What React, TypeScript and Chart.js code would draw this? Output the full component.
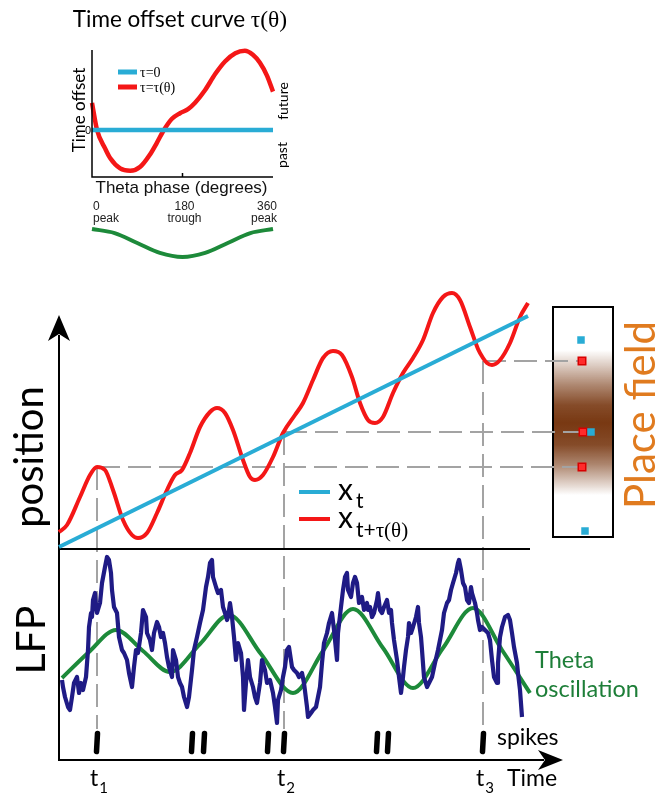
import React, { useEffect, useRef } from "react";
import { Chart, registerables } from "chart.js";
Chart.register(...registerables);

const W = 669;
const H = 794;
const SANS = '"Lato", "Open Sans", sans-serif';
const ARIAL = '"Liberation Sans", "DejaVu Sans", sans-serif';
const SERIF = '"Liberation Serif", "DejaVu Serif", serif';

const BLUE = "#29acd5";
const RED = "#f41717";
const NAVY = "#1f1b85";
const GREEN = "#1d8a3a";
const GREY = "#a3a3a3";
const BROWN = "120,56,18";
const ORANGE = "#e07b1f";

// ---------------- inset: time offset curve tau(theta) ----------------
const insetPhase = [0, 10, 26, 36, 56, 76, 96, 115, 129, 143, 159, 175, 191, 205, 225, 245, 265, 285, 304, 320, 334, 348, 360];
const insetTau = [0.34, 0, -0.23, -0.35, -0.48, -0.51, -0.46, -0.31, -0.16, 0, 0.14, 0.21, 0.26, 0.34, 0.5, 0.7, 0.86, 0.96, 0.99, 0.94, 0.84, 0.68, 0.48];
const zeroPhase = [0, 360];
const zeroTau = [0, 0];
const refPhase = [0, 45, 90, 135, 180, 225, 270, 315, 360];
const refCos = [1, 0.71, 0, -0.71, -1, -0.71, 0, 0.71, 1];
const phaseTickValues = [0, 180, 360];
const phaseTickNames = ["peak", "trough", "peak"];
const insetLegend = ["τ=0", "τ=τ(θ)"];

// ---------------- main: position, LFP, spikes ----------------
const blueTime = [0, 469];
const bluePos = [0, 46.2];
const redTime = [0, 8, 21, 31, 38, 46, 54, 64, 73, 79, 88, 98, 108, 116, 123, 131, 141, 151, 158, 166, 174, 184, 191, 196, 204, 214, 224, 236, 244, 254, 264, 274, 283, 293, 301, 309, 316, 324, 334, 344, 354, 364, 374, 384, 393, 401, 411, 419, 424, 428, 433, 441, 451, 461, 469];
const redPos = [3.0, 4.4, 10.0, 14.4, 16.0, 15.4, 11.4, 5.4, 2.4, 1.8, 2.8, 6.8, 11.4, 14.4, 15.4, 18.8, 24.0, 27.0, 27.8, 26.8, 23.4, 17.4, 14.0, 13.4, 14.4, 18.0, 22.8, 26.4, 28.8, 33.4, 37.8, 39.2, 38.4, 34.0, 28.8, 25.4, 24.8, 26.0, 30.8, 34.8, 37.8, 41.4, 46.8, 50.0, 50.8, 49.4, 44.0, 39.6, 37.8, 36.8, 36.4, 37.4, 40.8, 46.0, 48.8];

const lfpTime = [3, 4, 6, 9, 11, 13, 15, 18, 20, 22, 24, 27, 29, 30, 32, 33, 34, 36, 37, 38, 41, 43, 46, 48, 50, 52, 53, 55, 58, 60, 63, 65, 68, 70, 73, 75, 77, 79, 82, 84, 87, 88, 91, 93, 95, 98, 100, 102, 104, 106, 108, 110, 113, 114, 117, 119, 121, 123, 125, 128, 130, 133, 135, 138, 141, 144, 147, 149, 151, 153, 154, 157, 159, 162, 164, 166, 168, 169, 171, 173, 175, 177, 179, 182, 184, 185, 187, 189, 191, 194, 196, 198, 201, 203, 206, 208, 211, 214, 216, 218, 219, 222, 224, 226, 228, 230, 233, 235, 238, 240, 243, 245, 248, 249, 252, 254, 257, 259, 261, 263, 265, 268, 270, 273, 275, 278, 279, 282, 284, 286, 288, 289, 292, 294, 296, 298, 300, 303, 305, 308, 309, 311, 313, 315, 318, 319, 321, 323, 325, 328, 330, 332, 333, 335, 338, 340, 342, 344, 345, 347, 349, 350, 352, 354, 357, 359, 360, 362, 363, 365, 368, 370, 373, 376, 379, 383, 385, 388, 390, 392, 394, 397, 399, 400, 402, 404, 406, 408, 410, 412, 413, 416, 418, 419, 421, 423, 426, 429, 431, 433, 435, 438, 439, 441, 443, 446, 449, 451, 453, 455, 458, 459, 461, 463];
const lfpUv = [-150, -185, -235, -285, -300, -235, -165, -135, -215, -165, -200, -135, 0, 115, 185, 165, 250, 285, 215, 185, 235, 335, 415, 465, 450, 385, 300, 215, 185, 65, 0, -15, -50, -115, -185, -85, 0, -15, 85, 200, 165, 85, 50, 0, 85, 140, 115, 65, 85, 35, -35, -85, -135, 0, -50, -135, -165, -185, -235, -285, -235, -100, 0, 65, 135, 200, 315, 365, 435, 450, 365, 315, 285, 300, 215, 185, 150, 165, 235, 165, 65, -50, 35, -15, -135, -300, -165, -50, -135, -185, -235, -265, -165, -50, -100, -165, -150, -215, -285, -365, -250, -200, -135, -85, 0, 15, -85, -100, -115, -135, -115, -165, -285, -335, -315, -300, -285, -235, -185, -65, 35, 85, 135, 185, 100, -50, 85, 215, 300, 365, 385, 300, 265, 335, 365, 335, 235, 265, 200, 235, 200, 215, 165, 185, 250, 285, 200, 185, 215, 250, 185, 200, 135, 50, -50, -135, -215, -135, -85, 0, 65, 135, 85, 115, 165, 215, 135, 65, 0, -135, -185, -165, -135, -65, 0, 100, 185, 235, 250, 300, 335, 385, 435, 450, 400, 335, 315, 250, 235, 315, 285, 235, 185, 150, 100, 115, 100, 85, 50, -50, -135, -165, -65, 65, 115, 165, 175, 150, 85, 15, -65, -115, -200, -335];

const thetaTime = [3, 30, 57, 84, 111, 141, 170, 202, 234, 264, 294, 324, 354, 384, 414, 443, 471];
const thetaUv = [-140, -10, 100, -5, -110, 30, 175, -20, -215, -5, 205, 10, -190, 10, 210, 0, -215];

const spikeTimes = [38, 133, 145, 209, 225, 318, 329, 424];
const guideTimes = [38, 225, 424];
const guideLabels = ["1", "2", "3"];
const markerRedPos = [16.0, 23.0, 37.2];
const markerRedTime = [523, 524, 523];
const markerBluePos = [3.2, 23.0, 41.4];
const markerBlueTime = [526, 532, 522];
const fieldPos = [39.4, 36.4, 32.4, 28.4, 24.8, 20.4, 16.4, 13.4, 10.4];
const fieldRate = [0, 0.25, 0.6, 0.9, 1, 0.9, 0.6, 0.3, 0];
const fieldBoxTime = [494, 554];
const fieldBoxPos = [2, 48];
const posLegend = [
  { color: BLUE, sub: [{ s: "t", family: SANS }] },
  { color: RED, sub: [{ s: "t+", family: SANS }, { s: "τ(θ)", family: SERIF }] },
];

// ---------------- layout (pixels) ----------------
const INSET_AREA = { left: 92, top: 50, right: 273, bottom: 257 };
const INSET_AXIS_BOTTOM = 177;
const MAIN_AREA = { left: 59, top: 277, right: 620, bottom: 760 };

function axisRange(area: { top: number; bottom: number }, anchorPx: number, anchorVal: number, pxPerUnit: number) {
  return {
    min: anchorVal - (area.bottom - anchorPx) / pxPerUnit,
    max: anchorVal + (anchorPx - area.top) / pxPerUnit,
  };
}

function padFor(area: { left: number; top: number; right: number; bottom: number }) {
  return { left: area.left, top: area.top, right: W - area.right, bottom: H - area.bottom };
}

const pts = (xs: number[], ys: number[]) => xs.map((x, i) => ({ x, y: ys[i] }));

type Run = { s: string; size: number; family?: string; dy?: number; dx?: number };
function drawRuns(ctx: CanvasRenderingContext2D, runs: Run[], x: number, y: number, align: "left" | "center" | "right", color: string, rot = 0) {
  ctx.save();
  ctx.translate(x, y);
  if (rot) ctx.rotate(rot);
  ctx.fillStyle = color;
  ctx.textBaseline = "alphabetic";
  ctx.textAlign = "left";
  const widths = runs.map((r) => {
    ctx.font = `${r.size}px ${r.family || SANS}`;
    return ctx.measureText(r.s).width + (r.dx || 0);
  });
  const total = widths.reduce((a, b) => a + b, 0);
  let cx = align === "left" ? 0 : align === "center" ? -total / 2 : -total;
  runs.forEach((r, i) => {
    ctx.font = `${r.size}px ${r.family || SANS}`;
    ctx.fillText(r.s, cx + (r.dx || 0), r.dy || 0);
    cx += widths[i];
  });
  ctx.restore();
}

function line(ctx: CanvasRenderingContext2D, x1: number, y1: number, x2: number, y2: number) {
  ctx.beginPath();
  ctx.moveTo(x1, y1);
  ctx.lineTo(x2, y2);
  ctx.stroke();
}

function arrowHead(ctx: CanvasRenderingContext2D, tx: number, ty: number, dx: number, dy: number, len: number, half: number, notch: number) {
  const bx = tx - dx * len, by = ty - dy * len;
  const px = -dy, py = dx;
  ctx.beginPath();
  ctx.moveTo(tx, ty);
  ctx.lineTo(bx + px * half, by + py * half);
  ctx.lineTo(tx - dx * (len - notch), ty - dy * (len - notch));
  ctx.lineTo(bx - px * half, by - py * half);
  ctx.closePath();
  ctx.fill();
}

const lineDs = (data: any[], color: string, width: number, axis: string, extra: any = {}) => ({
  data,
  showLine: true,
  borderColor: color,
  backgroundColor: color,
  borderWidth: width,
  pointRadius: 0,
  pointHoverRadius: 0,
  cubicInterpolationMode: "monotone",
  borderJoinStyle: "round",
  borderCapStyle: "butt",
  clip: false,
  yAxisID: axis,
  ...extra,
});

// ---------------- inset chart ----------------
const insetDecor = {
  id: "insetDecor",
  afterDatasetsDraw(chart: any) {
    const ctx: CanvasRenderingContext2D = chart.ctx;
    const x = chart.scales.x;
    const y = chart.scales.y;
    const x0 = x.getPixelForValue(0);
    const x1 = x.getPixelForValue(360);
    ctx.save();
    ctx.strokeStyle = "#000";
    ctx.lineWidth = 1.5;
    ctx.beginPath();
    ctx.moveTo(x0, INSET_AREA.top);
    ctx.lineTo(x0, INSET_AXIS_BOTTOM);
    ctx.lineTo(x1, INSET_AXIS_BOTTOM);
    ctx.stroke();
    const xm = x.getPixelForValue(180);
    line(ctx, xm, INSET_AXIS_BOTTOM, xm, INSET_AXIS_BOTTOM - 4);

    // title
    drawRuns(ctx, [{ s: "Time offset curve ", size: 22.5 }, { s: "τ(θ)", size: 23.5, family: SERIF }], 180, 27, "center", "#000");
    // y label
    drawRuns(ctx, [{ s: "Time offset", size: 17 }], 85, 110, "center", "#000", -Math.PI / 2);
    drawRuns(ctx, [{ s: "0", size: 11, family: ARIAL }], 91, y.getPixelForValue(0) + 4, "right", "#000");
    drawRuns(ctx, [{ s: "future", size: 14 }], 288, 101, "center", "#000", -Math.PI / 2);
    drawRuns(ctx, [{ s: "past", size: 14 }], 287, 155, "center", "#000", -Math.PI / 2);

    // legend
    const legColors = [BLUE, RED];
    const legY = [72, 87];
    insetLegend.forEach((label, i) => {
      ctx.strokeStyle = legColors[i];
      ctx.lineWidth = 5;
      line(ctx, 118, legY[i], 137, legY[i]);
      drawRuns(ctx, [{ s: label, size: 14, family: SERIF }], 140, legY[i] + 5, "left", "#000");
    });

    // x label + ticks
    drawRuns(ctx, [{ s: "Theta phase (degrees)", size: 17, family: ARIAL }], 181.5, 193, "center", "#111");
    phaseTickValues.forEach((v, i) => {
      const px = x.getPixelForValue(v);
      const align = i === 0 ? "left" : i === phaseTickValues.length - 1 ? "right" : "center";
      const off = i === 0 ? 1 : i === phaseTickValues.length - 1 ? 4 : 2;
      drawRuns(ctx, [{ s: String(v), size: 12, family: ARIAL }], px + off, 210, align, "#222");
      drawRuns(ctx, [{ s: phaseTickNames[i], size: 12, family: ARIAL }], px + off, 222, align, "#222");
    });
    ctx.restore();
  },
};

function insetConfig(): any {
  return {
    type: "scatter",
    data: {
      datasets: [
        lineDs(pts(zeroPhase, zeroTau), BLUE, 4.5, "y", { cubicInterpolationMode: "default" }),
        lineDs(pts(insetPhase, insetTau), RED, 4.5, "y"),
        lineDs(pts(refPhase, refCos), GREEN, 4, "yRef"),
      ],
    },
    options: {
      responsive: false,
      animation: false,
      events: [],
      layout: { padding: padFor(INSET_AREA) },
      plugins: { legend: { display: false }, tooltip: { enabled: false }, title: { display: false } },
      scales: {
        x: { type: "linear", display: false, min: 0, max: 360 },
        y: { type: "linear", display: false, ...axisRange(INSET_AREA, 130, 0, 80) },
        yRef: { type: "linear", display: false, ...axisRange(INSET_AREA, 243, 0, 14) },
      },
    },
    plugins: [insetDecor],
  };
}

// ---------------- main chart ----------------
const POS_BASE = -0.4; // position axis baseline (cm)
const AXIS_TOP_PX = 315;
const TIME_TIP_PX = 563;

const mainDecor = {
  id: "mainDecor",
  beforeDatasetsDraw(chart: any) {
    const ctx: CanvasRenderingContext2D = chart.ctx;
    const { x, y, ySpk } = chart.scales;
    ctx.save();
    // place field
    const xl = x.getPixelForValue(fieldBoxTime[0]);
    const xr = x.getPixelForValue(fieldBoxTime[1]);
    const yt = y.getPixelForValue(fieldBoxPos[1]);
    const yb = y.getPixelForValue(fieldBoxPos[0]);
    const g = ctx.createLinearGradient(0, yt, 0, yb);
    fieldPos.forEach((p, i) => {
      const off = Math.min(1, Math.max(0, (y.getPixelForValue(p) - yt) / (yb - yt)));
      g.addColorStop(off, `rgba(${BROWN},${fieldRate[i]})`);
    });
    ctx.fillStyle = g;
    ctx.fillRect(xl, yt, xr - xl, yb - yt);
    ctx.strokeStyle = "#000";
    ctx.lineWidth = 2;
    ctx.strokeRect(xl, yt, xr - xl, yb - yt);

    // guides
    ctx.strokeStyle = GREY;
    ctx.lineWidth = 2;
    ctx.setLineDash([23, 8]);
    guideTimes.forEach((t, i) => {
      const gx = x.getPixelForValue(t);
      const gy = y.getPixelForValue(markerRedPos[i]);
      line(ctx, gx, gy, gx, ySpk.getPixelForValue(1.25));
      line(ctx, gx, gy, x.getPixelForValue(markerRedTime[i]) + 2, gy);
    });
    ctx.setLineDash([]);

    // axes
    const x0 = x.getPixelForValue(0);
    const bottom = chart.chartArea.bottom;
    ctx.strokeStyle = "#000";
    ctx.lineWidth = 2;
    line(ctx, x0, bottom, x0, AXIS_TOP_PX + 20);
    const yb0 = y.getPixelForValue(POS_BASE);
    line(ctx, x0, yb0, x.getPixelForValue(redTime[redTime.length - 1]) + 2, yb0);
    line(ctx, x0 - 1, bottom, TIME_TIP_PX - 19, bottom);
    ctx.restore();
  },
  afterDatasetsDraw(chart: any) {
    const ctx: CanvasRenderingContext2D = chart.ctx;
    const { x } = chart.scales;
    const x0 = x.getPixelForValue(0);
    const bottom = chart.chartArea.bottom;
    ctx.save();
    ctx.fillStyle = "#000";
    arrowHead(ctx, x0, AXIS_TOP_PX, 0, -1, 26, 11, 7);
    arrowHead(ctx, TIME_TIP_PX, bottom, 1, 0, 25, 10, 7);

    drawRuns(ctx, [{ s: "position", size: 40 }], 43, 457, "center", "#000", -Math.PI / 2);
    drawRuns(ctx, [{ s: "LFP", size: 41 }], 45, 640, "center", "#000", -Math.PI / 2);

    // legend
    const legY = [492, 519];
    const legBase = [500, 528];
    const subDy = [8, 9];
    posLegend.forEach((e, i) => {
      ctx.strokeStyle = e.color;
      ctx.lineWidth = 4;
      line(ctx, 299, legY[i], 330, legY[i]);
      const runs: Run[] = [{ s: "x", size: 30 }];
      e.sub.forEach((s, k) => runs.push({ s: s.s, size: 21, family: s.family, dy: subDy[i], dx: k === 0 ? 3 : 0 }));
      drawRuns(ctx, runs, 338, legBase[i], "left", "#000");
    });

    drawRuns(ctx, [{ s: "Theta", size: 23.5 }], 535, 668, "left", "#1d7e38");
    drawRuns(ctx, [{ s: "oscillation", size: 23.5 }], 535, 697, "left", "#1d7e38");
    drawRuns(ctx, [{ s: "spikes", size: 23 }], 497, 745, "left", "#000");
    drawRuns(ctx, [{ s: "Time", size: 23 }], 507, 786, "left", "#000");
    guideTimes.forEach((t, i) => {
      const gx = x.getPixelForValue(t);
      drawRuns(ctx, [{ s: "t", size: 23 }, { s: guideLabels[i], size: 15, dy: 7, dx: 1 }], gx - 7, 786, "left", "#000");
    });
    drawRuns(ctx, [{ s: "Place field", size: 42 }], 655, 415, "center", ORANGE, -Math.PI / 2);
    ctx.restore();
  },
};

function spikeData() {
  const d: any[] = [];
  spikeTimes.forEach((t) => {
    d.push({ x: t + 0.5, y: 1 }, { x: t - 0.5, y: 0 }, { x: t, y: null });
  });
  return d;
}

function mainConfig(): any {
  return {
    type: "scatter",
    data: {
      datasets: [
        lineDs(pts(blueTime, bluePos), BLUE, 4, "y", { cubicInterpolationMode: "default" }),
        lineDs(pts(redTime, redPos), RED, 4, "y"),
        lineDs(pts(lfpTime, lfpUv), NAVY, 4.2, "yLfp", { cubicInterpolationMode: "default", tension: 0 }),
        lineDs(pts(thetaTime, thetaUv), GREEN, 4, "yLfp"),
        lineDs(spikeData(), "#000", 5.5, "ySpk", { cubicInterpolationMode: "default", spanGaps: false, borderCapStyle: "round" }),
        {
          data: pts(markerBlueTime, markerBluePos),
          yAxisID: "y",
          pointStyle: "rect",
          pointRadius: 5.3,
          pointHoverRadius: 5.3,
          backgroundColor: BLUE,
          borderWidth: 0,
          clip: false,
        },
        {
          data: pts(markerRedTime, markerRedPos),
          yAxisID: "y",
          pointStyle: "rect",
          pointRadius: 5.3,
          pointHoverRadius: 5.3,
          backgroundColor: "#ff2b2b",
          borderColor: "#d80000",
          borderWidth: 1.5,
          clip: false,
        },
      ],
    },
    options: {
      responsive: false,
      animation: false,
      events: [],
      layout: { padding: padFor(MAIN_AREA) },
      plugins: { legend: { display: false }, tooltip: { enabled: false }, title: { display: false } },
      scales: {
        x: { type: "linear", display: false, min: 0, max: MAIN_AREA.right - MAIN_AREA.left },
        y: { type: "linear", display: false, ...axisRange(MAIN_AREA, 547, 0, 5) },
        yLfp: { type: "linear", display: false, ...axisRange(MAIN_AREA, 650, 0, 0.2) },
        ySpk: { type: "linear", display: false, ...axisRange(MAIN_AREA, 751.5, 0, 18) },
      },
    },
    plugins: [mainDecor],
  };
}

export default function App() {
  const insetRef = useRef<HTMLCanvasElement>(null);
  const mainRef = useRef<HTMLCanvasElement>(null);
  useEffect(() => {
    document.body.style.margin = "0";
    const c1 = new Chart(mainRef.current as HTMLCanvasElement, mainConfig());
    const c2 = new Chart(insetRef.current as HTMLCanvasElement, insetConfig());
    return () => {
      c1.destroy();
      c2.destroy();
    };
  }, []);
  const cs: React.CSSProperties = { position: "absolute", left: 0, top: 0, width: W, height: H };
  return (
    <div style={{ position: "fixed", left: 0, top: 0, width: W, height: H, background: "#fff", overflow: "hidden" }}>
      <canvas ref={mainRef} width={W} height={H} style={cs} />
      <canvas ref={insetRef} width={W} height={H} style={cs} />
    </div>
  );
}
